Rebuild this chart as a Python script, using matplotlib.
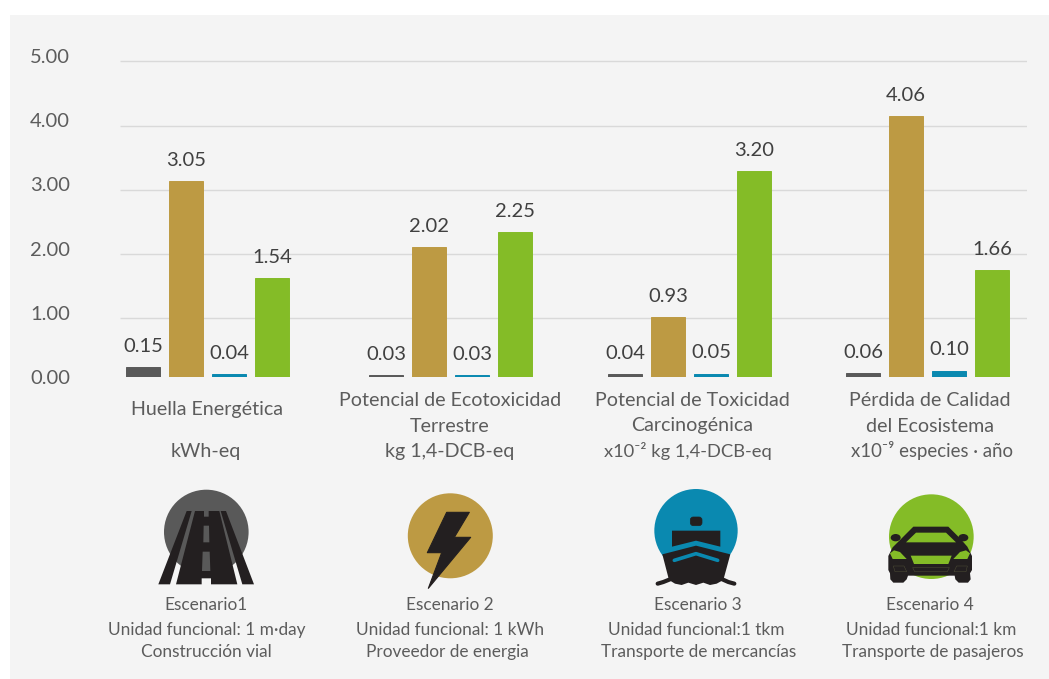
"""Huella por escenario: four impact categories, four scenarios, with scenario icons below."""
import numpy as np
import matplotlib
matplotlib.use('Agg')
import matplotlib.pyplot as plt
from matplotlib.patches import Circle, Polygon, Rectangle, Ellipse, FancyBboxPatch
from matplotlib.transforms import ScaledTranslation

plt.rcParams['font.family'] = ['Lato', 'DejaVu Sans']

# data
escenario1 = [0.15, 0.03, 0.04, 0.06]
escenario2 = [3.05, 2.02, 0.93, 4.06]
escenario3 = [0.04, 0.03, 0.05, 0.10]
escenario4 = [1.54, 2.25, 3.20, 1.66]
y_ticks = [0, 1, 2, 3, 4, 5]
cat_titles = ['Huella Energética', 'Potencial de Ecotoxicidad\nTerrestre',
              'Potencial de Toxicidad\nCarcinogénica', 'Pérdida de Calidad\ndel Ecosistema']
cat_units = ['kWh-eq', 'kg 1,4-DCB-eq', 'x10⁻² kg 1,4-DCB-eq', 'x10⁻⁹ especies · año']
esc_names = ['Escenario1', 'Escenario 2', 'Escenario 3', 'Escenario 4']
esc_units = ['Unidad funcional: 1 m·day', 'Unidad funcional: 1 kWh',
             'Unidad funcional:1 tkm', 'Unidad funcional:1 km']
esc_uses = ['Construcción vial', 'Proveedor de energia',
            'Transporte de mercancías', 'Transporte de pasajeros']

GRAY = '#595959'
GOLD = '#bd9a43'
BLUE = '#0a89b0'
GREEN = '#84bc27'
INK = '#231f20'
TEXT = '#5c5c5c'
W, H = 1049, 679
group_x = [207.5, 450.5, 689.5, 927.5]

fig = plt.figure(figsize=(W / 100, H / 100), dpi=100, facecolor='white')

# background layer in pixel coords, for the panel, the text and the icons
bg = fig.add_axes([0, 0, 1, 1], zorder=0)
bg.set_xlim(0, W)
bg.set_ylim(H, 0)
bg.axis('off')
bg.add_patch(Rectangle((10, 15), W - 10, H - 15, fc='#f4f4f4', ec='none'))

# chart, x axis runs in pixels so the groups can sit where they sit in the picture
ax = fig.add_axes([120 / W, (H - 377) / H, 907 / W, 321.25 / H], zorder=1)
ax.patch.set_alpha(0)
ax.set_xlim(120, 1027)
ax.set_ylim(0, 5)
for s in ax.spines.values():
    s.set_visible(False)
ax.set_xticks([])
ax.set_yticks(y_ticks, [f'{t:.2f}' for t in y_ticks], fontsize=14.5, color=TEXT)
ax.tick_params(axis='y', length=0, pad=36)

# gridlines sit a few pixels under their tick labels in the original
shift = ax.transData + ScaledTranslation(0, -5.5 / 100, fig.dpi_scale_trans)
ax.hlines(y_ticks[1:], 120, 1027, color='#d9d9d9', lw=1, transform=shift, zorder=1)

series = [escenario1, escenario2, escenario3, escenario4]
colors = [GRAY, GOLD, BLUE, GREEN]
offsets = [-64.5, -21.5, 21.5, 64.5]
for vals, col, off in zip(series, colors, offsets):
    xs = np.array(group_x) + off
    ax.bar(xs, vals, width=34, color=col, edgecolor=col, linewidth=0.7, zorder=2)
    for x, v in zip(xs, vals):
        ax.annotate(f'{v:.2f}', (x, v), xytext=(0, 15), textcoords='offset points',
                    ha='center', va='center', fontsize=14.5, color='#404040', annotation_clip=False)

# category labels
title_x = [207, 450, 692, 930]
unit_x = [205.5, 450, 688, 932]
unit_size = [14.1, 14.1, 13.2, 13.4]
for i in range(4):
    lines = cat_titles[i].split('\n')
    if len(lines) == 1:
        bg.text(title_x[i], 410, lines[0], ha='center', va='center', fontsize=14.1, color=TEXT)
    else:
        bg.text(title_x[i], 400.5, lines[0], ha='center', va='center', fontsize=14.1, color=TEXT)
        bg.text(title_x[i], 426, lines[1], ha='center', va='center', fontsize=14.1, color=TEXT)
    bg.text(unit_x[i], 451, cat_units[i], ha='center', va='center', fontsize=unit_size[i], color=TEXT)

# scenario captions
name_x = [206, 450, 698, 930]
func_x = [207, 450, 696, 931]
use_x = [206, 447, 699, 933]
for i in range(4):
    bg.text(name_x[i], 605, esc_names[i], ha='center', va='center', fontsize=12.4, color=TEXT)
    bg.text(func_x[i], 630, esc_units[i], ha='center', va='center', fontsize=12.4, color=TEXT)
    bg.text(use_x[i], 652, esc_uses[i], ha='center', va='center', fontsize=12.4, color=TEXT)


def poly(ox, oy, pts, **kw):
    xy = [(ox + a / 3, oy + b / 3) for a, b in pts]
    kw.setdefault('fc', INK)
    kw.setdefault('ec', 'none')
    bg.add_patch(Polygon(xy, closed=True, **kw))


def stroke(ox, oy, pts, color=INK, lw=2.5):
    bg.plot([ox + a / 3 for a, b in pts], [oy + b / 3 for a, b in pts],
            color=color, lw=lw, solid_capstyle='round', solid_joinstyle='round')


# road
bg.add_patch(Circle((206.3, 532), 42.3, fc=GRAY, ec='none'))
ox, oy = 150, 485
poly(ox, oy, [(110, 78), (125, 78), (60, 298), (25, 298)])
poly(ox, oy, [(212, 78), (228, 78), (312, 298), (277, 298)])
poly(ox, oy, [(135, 78), (162, 78), (162, 95), (176, 95), (176, 78), (208, 78), (262, 298),
              (183, 298), (183, 280), (155, 280), (155, 298), (78, 298)])
poly(ox, oy, [(161, 122), (177, 122), (178, 172), (160, 172)], fc=GRAY)
poly(ox, oy, [(158, 200), (179, 200), (181, 258), (156, 258)], fc=GRAY)

# bolt
bg.add_patch(Circle((450.3, 535.8), 42.5, fc=GOLD, ec='none'))
poly(400, 485, [(140, 82), (208, 82), (163, 157), (212, 157), (85, 310), (125, 203), (82, 203)],
     ec=INK, lw=0.8, joinstyle='round')

# ship
ox, oy = 645, 485
bg.add_patch(Circle((ox + 153 / 3, oy + 137 / 3), 125 / 3, fc=BLUE, ec='none'))
bg.add_patch(FancyBboxPatch((ox + 136 / 3, oy + 96 / 3), 35 / 3, 26 / 3,
                            boxstyle='round,pad=0,rounding_size=3', fc=INK, ec=INK, lw=0.5))
poly(ox, oy, [(81, 137), (226, 137), (226, 185), (153, 167), (81, 185)])
poly(ox, oy, [(52, 208), (153, 182), (256, 208), (235, 285), (215, 296), (195, 300), (175, 293),
              (153, 300), (130, 293), (110, 300), (90, 296), (72, 285)])
stroke(ox, oy, [(88, 226), (153, 206), (218, 226)], color=BLUE, lw=2.6)
stroke(ox, oy, [(38, 296), (55, 291), (75, 283)], lw=3)
stroke(ox, oy, [(232, 283), (250, 291), (268, 296)], lw=3)

# car
ox, oy = 880, 490
bg.add_patch(Circle((ox + 154 / 3, oy + 140 / 3), 127 / 3, fc=GREEN, ec='none'))
bg.add_patch(Ellipse((ox + 47 / 3, oy + 143 / 3), 30 / 3, 22 / 3, fc=INK, ec='none'))
bg.add_patch(Ellipse((ox + 250 / 3, oy + 143 / 3), 30 / 3, 22 / 3, fc=INK, ec='none'))
poly(ox, oy, [(100, 110), (205, 110), (240, 145), (262, 170), (276, 198), (276, 240), (270, 250),
              (272, 268), (264, 278), (236, 278), (226, 268), (224, 257), (84, 257), (80, 268),
              (70, 278), (40, 278), (31, 268), (30, 250), (25, 240), (25, 198), (38, 172), (62, 148)])
poly(ox, oy, [(78, 157), (108, 128), (198, 128), (228, 157)], fc=GREEN)
poly(ox, oy, [(30, 190), (42, 181), (60, 186), (80, 207), (38, 207)], fc=GREEN)
poly(ox, oy, [(270, 190), (258, 181), (240, 186), (220, 207), (262, 207)], fc=GREEN)
poly(ox, oy, [(92, 197), (215, 197), (205, 222), (102, 222)], fc=GREEN)
poly(ox, oy, [(40, 228), (72, 228), (80, 245), (45, 245)], fc='none', ec='#55553a', lw=0.3)
poly(ox, oy, [(262, 228), (230, 228), (222, 245), (258, 245)], fc='none', ec='#55553a', lw=0.3)
poly(ox, oy, [(98, 233), (208, 233), (202, 245), (104, 245)], fc='none', ec='#55553a', lw=0.3)

fig.savefig('out.png', dpi=100)
